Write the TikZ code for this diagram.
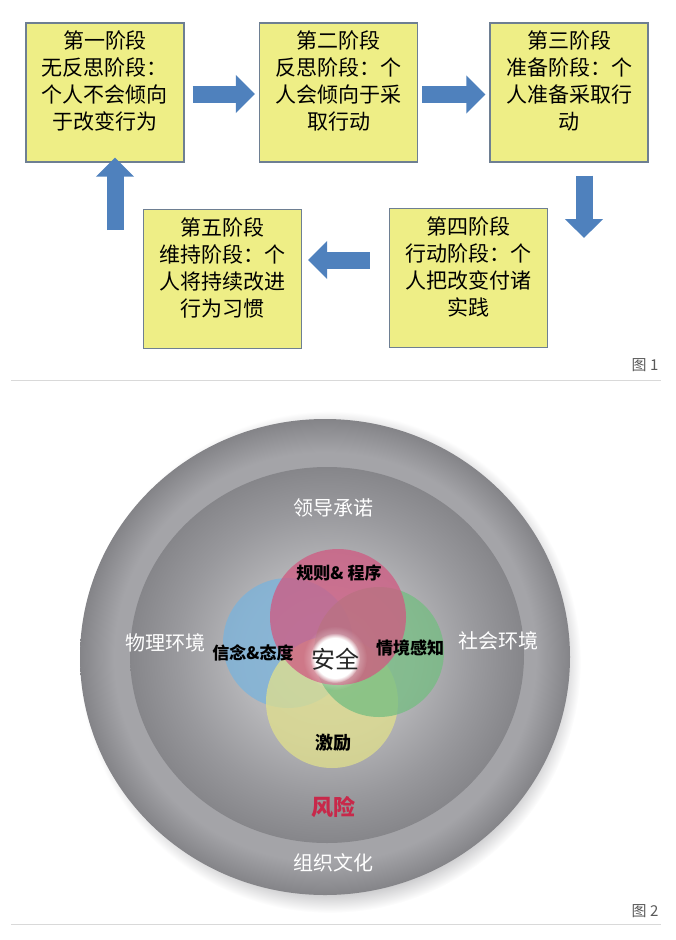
\documentclass[tikz,border=0pt]{standalone}
\usepackage{fontspec}
\newfontfamily\cjk{Noto Sans CJK SC}
\usetikzlibrary{arrows.meta,fadings}

\definecolor{stagefill}{HTML}{EEEE86}
\definecolor{stageline}{HTML}{6E7F92}
\definecolor{arrowblue}{HTML}{4F81BD}
\definecolor{ringdark}{HTML}{848488}
\definecolor{ringlight}{HTML}{A4A4A8}
\definecolor{diskedge}{HTML}{86868A}
\definecolor{diskmid}{HTML}{99999D}
\definecolor{disklight}{HTML}{B6B6B9}
\definecolor{diskcore}{HTML}{C6C6C9}
\definecolor{shadowgray}{HTML}{B0B0B3}
\definecolor{vennblue}{HTML}{79B3DC}
\definecolor{vennred}{HTML}{D05981}
\definecolor{venngreen}{HTML}{74BD81}
\definecolor{vennyellow}{HTML}{E1E08C}
\definecolor{riskred}{HTML}{C8284A}

\pgfdeclareradialshading{ringshade}{\pgfpoint{0bp}{0bp}}{color(0bp)=(ringlight); color(20bp)=(ringlight); color(21.5bp)=(ringlight); color(25bp)=(ringdark); color(50bp)=(ringdark)}
\pgfdeclareradialshading{diskshade}{\pgfpoint{0bp}{0bp}}{color(0bp)=(diskcore); color(11bp)=(disklight); color(19bp)=(diskmid); color(25bp)=(diskedge); color(50bp)=(diskedge)}
\pgfdeclareradialshading{shadowshade}{\pgfpoint{0bp}{0bp}}{color(0bp)=(shadowgray); color(22bp)=(shadowgray); color(25bp)=(white); color(50bp)=(white)}
\tikzfading[name=glowfade, inner color=transparent!0, outer color=transparent!100]

\newcommand\stagebox[1]{\parbox[c][131pt][t]{150pt}{\centering\vspace*{4pt}#1}}

\begin{document}
\begin{tikzpicture}[x=1pt,y=-1pt,
    stage/.style={draw=stageline,line width=1.2pt,fill=stagefill,inner xsep=4pt,inner ysep=4pt,
      font=\cjk\fontsize{21}{27}\selectfont},
    blockarrow/.style={arrowblue,line width=17pt,-{Triangle[length=19pt,width=37pt]}},
    venn/.style={fill opacity=0.75},
    ringtext/.style={text=white,font=\cjk\fontsize{20}{20}\selectfont},
    venntext/.style={font=\cjk\bfseries\fontsize{17}{17}\selectfont},
    figtag/.style={text=black!65,font=\cjk\fontsize{15}{15}\selectfont}]
  \useasboundingbox (0,0) rectangle (676,940);

  % figure 1
  \node[stage] (s1) at (105,92.5) {\stagebox{第一阶段\\无反思阶段：\\个人不会倾向\\于改变行为}};
  \node[stage] (s2) at (338.5,92.5) {\stagebox{第二阶段\\反思阶段：个\\人会倾向于采\\取行动}};
  \node[stage] (s3) at (569,92.5) {\stagebox{第三阶段\\准备阶段：个\\人准备采取行\\动}};
  \node[stage] (s4) at (468.5,278) {\stagebox{第四阶段\\行动阶段：个\\人把改变付诸\\实践}};
  \node[stage] (s5) at (222.5,279) {\stagebox{第五阶段\\维持阶段：个\\人将持续改进\\行为习惯}};
  \coordinate (down end) at (584,238);
  \coordinate (up start) at (115,230);
  \draw[blockarrow] ([shift={(8,1.5)}]s1.east) -- ([shift={(-4,1.5)}]s2.west);
  \draw[blockarrow] ([shift={(4,2)}]s2.east) -- ([shift={(-4,2)}]s3.west);
  \draw[blockarrow] ([shift={(15,13)}]s3.south) -- (down end);
  \draw[blockarrow] ([shift={(-19,-18)}]s4.west) -- ([shift={(6,-19)}]s5.east);
  \draw[blockarrow] (up start) -- ([shift={(10,-5)}]s1.south);
  \node[figtag] (tag1) at (645,365) {图 1};
  \draw[black!15,line width=0.8pt] (11,380) -- (661,380);

  % figure 2
  \coordinate (core) at (325,657);
  \shade[shading=shadowshade] (330,662) circle (251);
  \shade[shading=ringshade] (core) ellipse [x radius=245,y radius=238];
  \shade[shading=diskshade] (327,655) ellipse [x radius=197,y radius=188];
  \fill[vennblue,venn] (288,643) circle (65);
  \fill[vennyellow,venn] (332,702) circle (66);
  \fill[venngreen,venn] (379,652) circle (65);
  \fill[vennred,venn] (338,617) circle (68);
  \fill[white,path fading=glowfade] (335,658) circle (32);
  \fill[white,path fading=circle with fuzzy edge 20 percent] (335,658) circle (25);
  \node[venntext] (rules) at (339,573) {规则\& 程序};
  \node[venntext] (beliefs) at (253,653) {信念\&态度};
  \node[venntext] (aware) at (410,648) {情境感知};
  \node[venntext,font=\cjk\bfseries\fontsize{18}{18}\selectfont] (motive) at (333,743) {激励};
  \node[text=black!85,font=\cjk\fontsize{24}{24}\selectfont] (safe) at (335,659) {安全};
  \node[ringtext] (lead) at (333,508) {领导承诺};
  \node[ringtext] (phys) at (165,643) {物理环境};
  \node[ringtext] (social) at (498,641) {社会环境};
  \node[text=riskred,font=\cjk\bfseries\fontsize{22}{22}\selectfont] (risk) at (333,807) {风险};
  \node[ringtext] (culture) at (333,863) {组织文化};
  \node[figtag] (tag2) at (645,911) {图 2};
  \draw[black!15,line width=0.8pt] (11,924) -- (661,924);
\end{tikzpicture}
\end{document}
